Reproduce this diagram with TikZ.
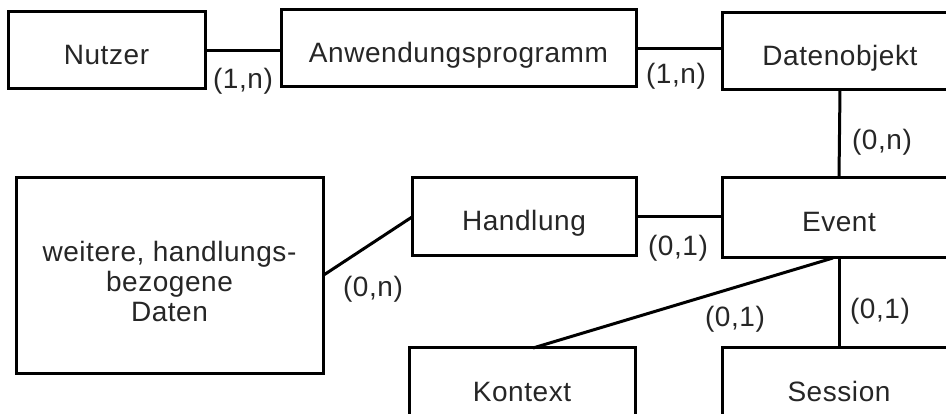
\documentclass[tikz,border=0pt]{standalone}
\usepackage{fontspec}
\setmainfont{Liberation Sans}[LetterSpace=2]
\begin{document}
\begin{tikzpicture}[x=1pt,y=-1pt,
  entity/.style={draw=black, line width=3pt, fill=white, inner sep=0pt, outer sep=0pt,
    text=black!85, font=\fontsize{28}{30}\selectfont, text height=28pt, text depth=0pt},
  card/.style={inner sep=0pt, text=black!85, font=\fontsize{28}{30}\selectfont},
  rel/.style={line width=3pt, draw=black}]
\useasboundingbox (0,0) rectangle (946,414);
\clip (0,0) rectangle (946,414);
\fill[white] (0,0) rectangle (946,414);

% entities
\node[entity, minimum width=197pt, minimum height=77pt] (nutzer) at (106.5,50.5) {Nutzer};
\node[entity, minimum width=355pt, minimum height=77pt] (anw) at (458.5,48.5) {Anwendungsprogramm};
\node[entity, minimum width=236pt, minimum height=77pt] (daten) at (840,51.5) {Datenobjekt};
\node[entity, minimum width=307pt, minimum height=195pt, align=center,
      text height=93pt, text depth=0pt] (weitere) at (169.5,275.5)
      {weitere, handlungs-\\bezogene\\Daten};
\node[entity, minimum width=224pt, minimum height=78pt] (handlung) at (524,217) {Handlung};
\node[entity, minimum width=234pt, minimum height=80pt] (event) at (839,218) {Event};
\node[entity, minimum width=226pt, minimum height=78pt] (kontext) at (522,387) {Kontext};
\node[entity, minimum width=234pt, minimum height=78pt] (session) at (839,387) {Session};

% relationships
\draw[rel] (nutzer.east) -- (nutzer.east -| anw.west);
\draw[rel] (anw.east) -- (anw.east -| daten.west);
\draw[rel] (daten.south) -- (event.north);
\draw[rel] (weitere.east) -- (handlung.west);
\draw[rel] (handlung.east) -- (handlung.east -| event.west);
\draw[rel] (event.south) -- (session.north);
\draw[rel] ([xshift=-6pt]event.south) -- ([xshift=11pt]kontext.north);

% cardinalities
\node[card] (c1) at (243,81) {(1,n)};
\node[card] (c2) at (676,76.5) {(1,n)};
\node[card] (c3) at (882,142) {(0,n)};
\node[card] (c4) at (373,289) {(0,n)};
\node[card] (c5) at (678,248) {(0,1)};
\node[card] (c6) at (735,319) {(0,1)};
\node[card] (c7) at (880,311) {(0,1)};
\end{tikzpicture}
\end{document}
